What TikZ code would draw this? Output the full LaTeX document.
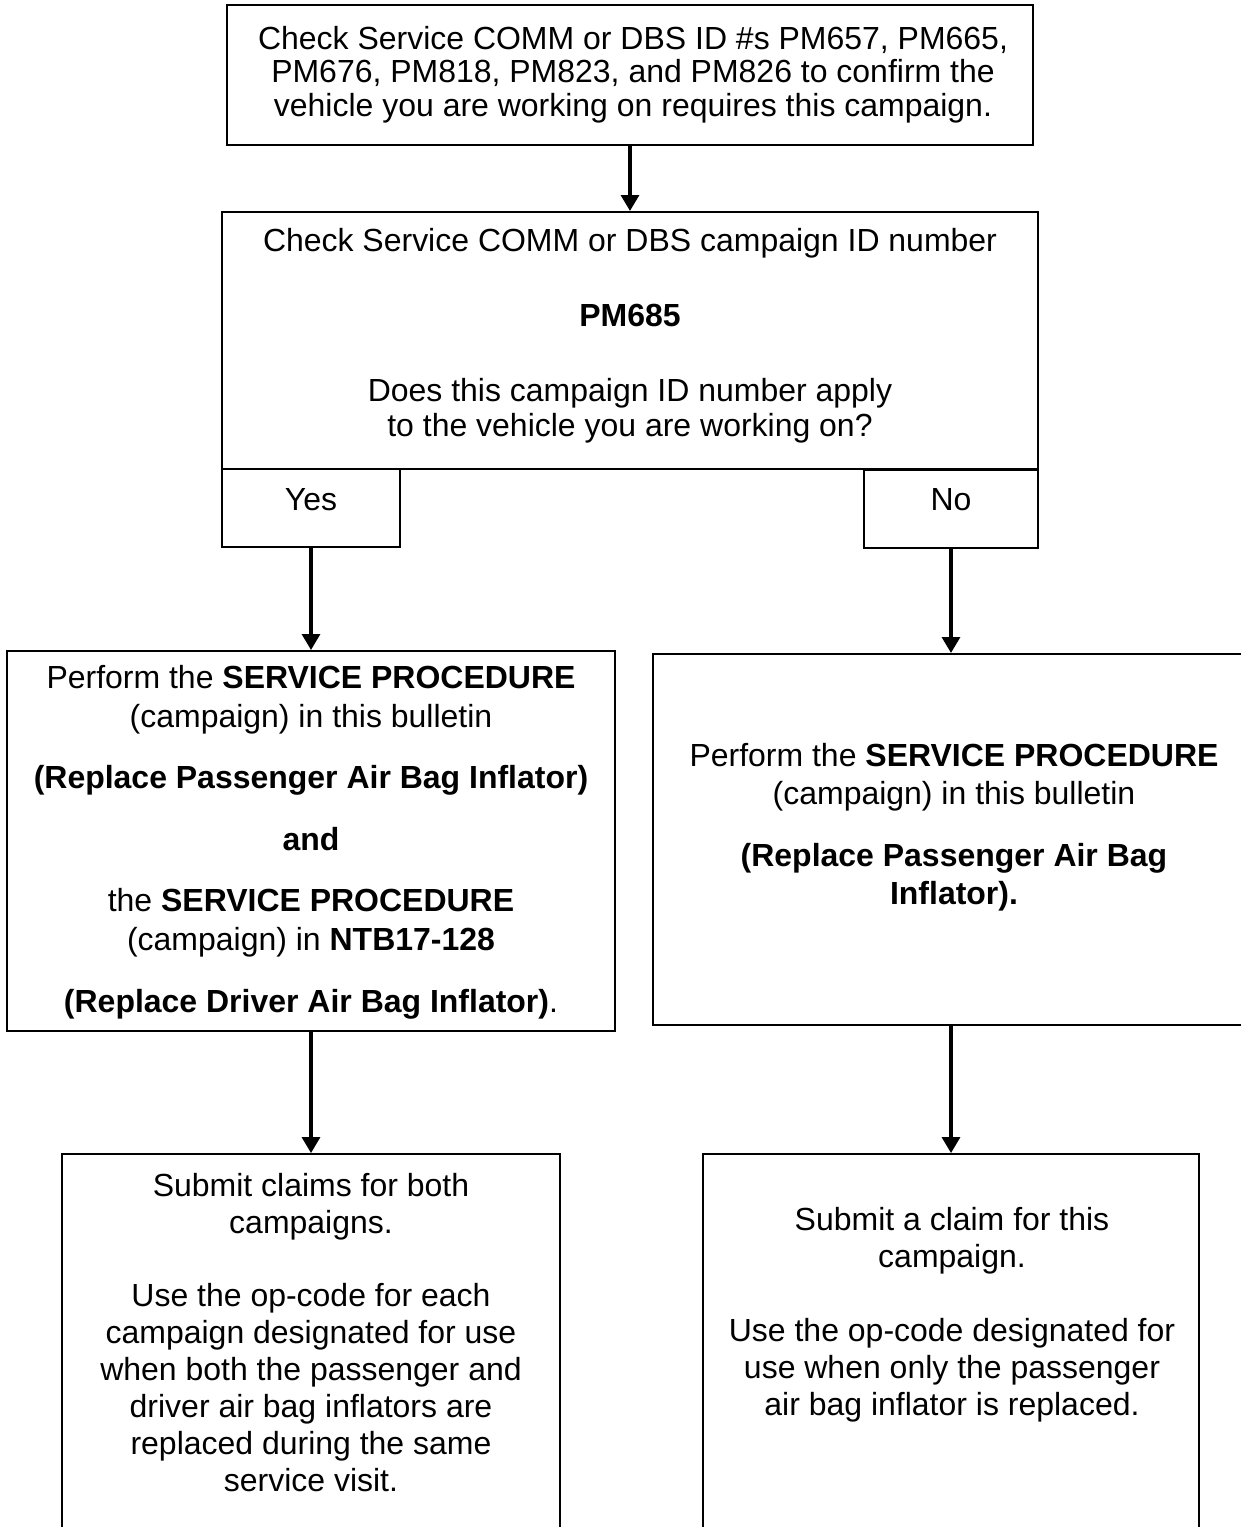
\documentclass[tikz,border=0pt]{standalone}
\usepackage{fontspec}
\setmainfont{Liberation Sans}
\usetikzlibrary{arrows.meta}

\begin{document}
\begin{tikzpicture}[x=0.48pt, y=-0.48pt]
% style des boites et des textes
\tikzstyle{boite} = [rectangle, draw, line width=1pt, inner sep=0pt]
\tikzset{texte/.style={align=center, inner sep=0pt, font=\fontsize{15.35pt}{#1}\selectfont}, texte/.default=17.8pt}
% style des fleches
\tikzstyle{fleche} = [-{Triangle[width=8.6pt, length=7.6pt]}, line width=1.5pt]

% cadre de la page
\useasboundingbox (0,0) rectangle (1241,1527);
\clip (0,0) rectangle (1241,1527);

%% placement des boites
\node[boite, minimum width=386.9pt, minimum height=67.2pt] (verif) at (630,75) {};
\node[boite, minimum width=391.7pt, minimum height=123.4pt] (campagne) at (630,340.5) {};
\node[boite, minimum width=85.4pt, minimum height=37.4pt] (oui) at (311,508) {};
\node[boite, minimum width=83.5pt, minimum height=37.4pt] (non) at (951,509) {};
\node[boite, minimum width=291.4pt, minimum height=182.4pt] (perfG) at (311,841) {};
\node[boite, minimum width=286.1pt, minimum height=178.1pt] (perfD) at (951,839.5) {};
\node[boite, minimum width=239pt, minimum height=214pt] (claimG) at (311,1377) {};
\node[boite, minimum width=238.1pt, minimum height=214pt] (claimD) at (951,1377) {};
%
%% textes des boites
\node[texte=16.1pt] (verifT) at (633,74.5) {Check Service COMM or DBS ID \#s PM657, PM665,\\ PM676, PM818, PM823, and PM826 to confirm the\\ vehicle you are working on requires this campaign.};
\node[texte=16.8pt] (campagneT) at (630,335.5) {Check Service COMM or DBS campaign ID number\\[19.2pt] \textbf{PM685}\\[19.2pt] Does this campaign ID number apply\\ to the vehicle you are working on?};
\node[texte] (ouiT) at (311,500) {Yes};
\node[texte] (nonT) at (951,500) {No};
\node[texte=18.7pt] (perfGT) at (311,842) {Perform the \textbf{SERVICE PROCEDURE}\\ (campaign) in this bulletin\\[10.8pt] \textbf{(Replace Passenger Air Bag Inflator)}\\[10.8pt] \textbf{and}\\[10.8pt] the \textbf{SERVICE PROCEDURE}\\ (campaign) in \textbf{NTB17-128}\\[10.8pt] \textbf{(Replace Driver Air Bag Inflator)}.};
\node[texte=18.2pt] (perfDT) at (954,827.5) {Perform the \textbf{SERVICE PROCEDURE}\\ (campaign) in this bulletin\\[11.5pt] \textbf{(Replace Passenger Air Bag}\\ \textbf{Inflator).}};
\node[texte] (claimGT) at (311,1332.5) {Submit claims for both\\ campaigns.\\[17.3pt] Use the op-code for each\\ campaign designated for use\\ when both the passenger and\\ driver air bag inflators are\\ replaced during the same\\ service visit.};
\node[texte] (claimDT) at (952,1315) {Submit a claim for this\\ campaign.\\[17.8pt] Use the op-code designated for\\ use when only the passenger\\ air bag inflator is replaced.};
%
%% placement des fleches
\draw[fleche] (verif) -- (campagne);
\draw[fleche] (oui) -- (perfG);
\draw[fleche] (non) -- (perfD);
\draw[fleche] (perfG) -- (claimG);
\draw[fleche] (perfD) -- (claimD);
\end{tikzpicture}
\end{document}
